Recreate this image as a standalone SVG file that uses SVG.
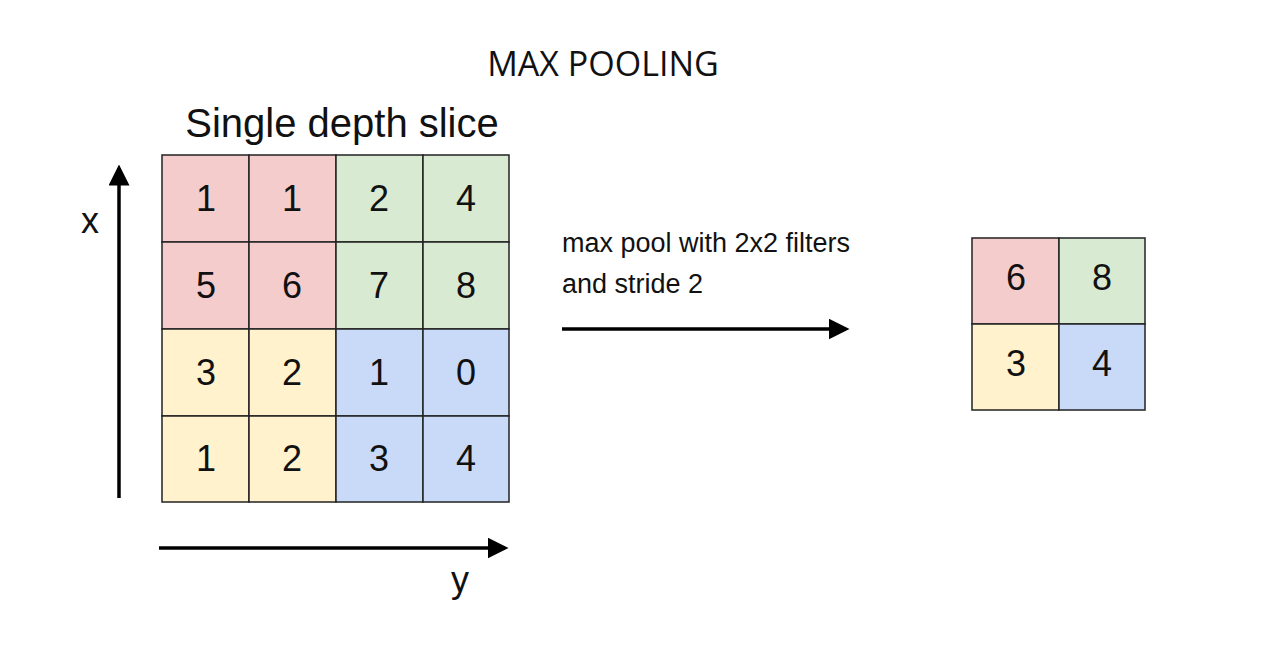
<svg xmlns="http://www.w3.org/2000/svg" width="1274" height="669" viewBox="0 0 1274 669">
<style>
.r{fill:#f4cccc}.g{fill:#d9ead3}.yl{fill:#fff2cc}.b{fill:#c9daf8}
rect{stroke:#222;stroke-width:1.5}
.n{font-family:"Liberation Sans",Arial,sans-serif;font-size:36px;text-anchor:middle;fill:#111}
.t{font-family:"Liberation Sans",Arial,sans-serif;fill:#111}
.a{stroke:#000;stroke-width:3.5;fill:none}
</style>
<defs><marker id="ah" markerWidth="6" markerHeight="6" refX="5" refY="3" orient="auto" markerUnits="strokeWidth"><path d="M0,0L6,3L0,6z" fill="#000"/></marker></defs>
<rect width="1274" height="669" fill="#fff" style="stroke:none"/>
<text x="603" y="76" class="t" style="font-family:'Open Sans','Liberation Sans',sans-serif;font-size:34px" text-anchor="middle">MAX POOLING</text>
<text x="342" y="137" class="t" style="font-size:40px" text-anchor="middle">Single depth slice</text>
<g id="input">
<rect x="162" y="155" width="87" height="87" class="r"/><rect x="249" y="155" width="87" height="87" class="r"/><rect x="336" y="155" width="87" height="87" class="g"/><rect x="423" y="155" width="86" height="87" class="g"/>
<rect x="162" y="242" width="87" height="87" class="r"/><rect x="249" y="242" width="87" height="87" class="r"/><rect x="336" y="242" width="87" height="87" class="g"/><rect x="423" y="242" width="86" height="87" class="g"/>
<rect x="162" y="329" width="87" height="87" class="yl"/><rect x="249" y="329" width="87" height="87" class="yl"/><rect x="336" y="329" width="87" height="87" class="b"/><rect x="423" y="329" width="86" height="87" class="b"/>
<rect x="162" y="416" width="87" height="86" class="yl"/><rect x="249" y="416" width="87" height="86" class="yl"/><rect x="336" y="416" width="87" height="86" class="b"/><rect x="423" y="416" width="86" height="86" class="b"/>
<text class="n" x="206" y="211">1</text><text class="n" x="292" y="211">1</text><text class="n" x="379" y="211">2</text><text class="n" x="466" y="211">4</text>
<text class="n" x="206" y="298">5</text><text class="n" x="292" y="298">6</text><text class="n" x="379" y="298">7</text><text class="n" x="466" y="298">8</text>
<text class="n" x="206" y="385">3</text><text class="n" x="292" y="385">2</text><text class="n" x="379" y="385">1</text><text class="n" x="466" y="385">0</text>
<text class="n" x="206" y="471">1</text><text class="n" x="292" y="471">2</text><text class="n" x="379" y="471">3</text><text class="n" x="466" y="471">4</text>
</g>
<g id="output">
<rect x="972" y="238" width="87" height="86" class="r"/><rect x="1059" y="238" width="86" height="86" class="g"/>
<rect x="972" y="324" width="87" height="86" class="yl"/><rect x="1059" y="324" width="86" height="86" class="b"/>
<text class="n" x="1016" y="290">6</text><text class="n" x="1102" y="290">8</text>
<text class="n" x="1016" y="376">3</text><text class="n" x="1102" y="376">4</text>
</g>
<g id="connectors">
<line class="a" x1="119" y1="498" x2="119" y2="168" marker-end="url(#ah)"/>
<line class="a" x1="159" y1="548" x2="505" y2="548" marker-end="url(#ah)"/>
<line class="a" x1="562" y1="329" x2="846" y2="329" marker-end="url(#ah)"/>
</g>
<text x="90" y="233" class="t" style="font-size:36px" text-anchor="middle">x</text>
<text x="460" y="592" class="t" style="font-size:36px" text-anchor="middle">y</text>
<text x="562" y="252" class="t" style="font-size:27px">max pool with 2x2 filters</text>
<text x="562" y="293" class="t" style="font-size:27px">and stride 2</text>
</svg>
